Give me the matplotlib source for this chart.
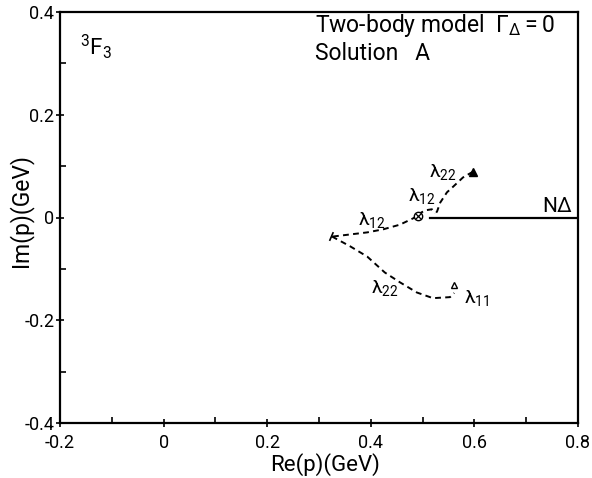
import matplotlib
matplotlib.use('Agg')
import matplotlib.pyplot as plt
from matplotlib.ticker import MultipleLocator

# trajectories of the poles in the complex momentum plane (GeV)
upper_l12_re = [0.327, 0.360, 0.393, 0.424, 0.456, 0.481, 0.491]
upper_l12_im = [-0.037, -0.033, -0.029, -0.023, -0.014, -0.002, 0.004]

lower_l22_re = [0.325, 0.360, 0.393, 0.427, 0.456, 0.489, 0.520, 0.553, 0.561]
lower_l22_im = [-0.037, -0.056, -0.076, -0.107, -0.126, -0.146, -0.157, -0.155, -0.147]

upper_l22_re = [0.597, 0.578, 0.559, 0.547, 0.534, 0.528, 0.524]
upper_l22_im = [0.089, 0.078, 0.060, 0.049, 0.029, 0.012, 0.006]

short_l12_re = [0.491, 0.505, 0.518, 0.524]
short_l12_im = [0.006, 0.014, 0.016, 0.008]

tip_re = [0.321, 0.327]
tip_im = [-0.044, -0.030]

# N-Delta threshold cut
cut_re = [0.514, 0.8]
cut_im = [0.0, 0.0]

# markers
start_full = (0.597, 0.089)
start_open = (0.561, -0.132)
cross_pt = (0.491, 0.003)

xticks = [-0.2, 0, 0.2, 0.4, 0.6, 0.8]
xticklabels = ['-0.2', '0', '0.2', '0.4', '0.6', '0.8']
yticks = [-0.4, -0.2, 0, 0.2, 0.4]
yticklabels = ['-0.4', '-0.2', '0', '0.2', '0.4']

plt.rcParams['font.family'] = ['Roboto', 'DejaVu Sans']
plt.rcParams['mathtext.fontset'] = 'custom'
plt.rcParams['mathtext.rm'] = 'Roboto'
plt.rcParams['mathtext.it'] = 'Roboto'
plt.rcParams['mathtext.default'] = 'regular'

fig = plt.figure(figsize=(5.92, 4.78), dpi=100)
ax = fig.add_axes([60 / 592, 1 - 423 / 478, 518 / 592, 411 / 478])

dash = dict(color='black', lw=1.4, ls=(0, (3, 2.2)))
ax.plot(upper_l12_re, upper_l12_im, **dash)
ax.plot(lower_l22_re, lower_l22_im, **dash)
ax.plot(upper_l22_re, upper_l22_im, **dash)
ax.plot(short_l12_re, short_l12_im, **dash)
ax.plot(tip_re, tip_im, color='black', lw=1.2)
ax.plot(cut_re, cut_im, color='black', lw=1.6)

ax.plot(*start_full, marker='^', ms=6, color='black', mec='black')
ax.plot(*start_open, marker='^', ms=5, mfc='white', mec='black', mew=1)
ax.plot(*cross_pt, marker='o', ms=6, mfc='white', mec='black', mew=1)
ax.plot(*cross_pt, marker='x', ms=4, color='black', mew=0.9)

fs = 14
ax.text(0.539, 0.089, r'$\lambda_{22}$', fontsize=fs, ha='center', va='center')
ax.text(0.499, 0.041, r'$\lambda_{12}$', fontsize=fs, ha='center', va='center')
ax.text(0.402, -0.004, r'$\lambda_{12}$', fontsize=fs, ha='center', va='center')
ax.text(0.427, -0.138, r'$\lambda_{22}$', fontsize=fs, ha='center', va='center')
ax.text(0.605, -0.157, r'$\lambda_{11}$', fontsize=fs, ha='center', va='center')
ax.text(0.760, 0.021, r'N$\Delta$', fontsize=15, ha='center', va='center')

ax.text(0.07, 0.917, r'$^3F_3$', fontsize=16, ha='center', va='center',
        transform=ax.transAxes)
ax.text(0.492, 0.968, r'Two-body model  $\Gamma_\Delta = 0$', fontsize=16.5,
        ha='left', va='center', transform=ax.transAxes)
ax.text(0.492, 0.898, 'Solution   A', fontsize=16.5,
        ha='left', va='center', transform=ax.transAxes)

ax.set_xlim(-0.2, 0.8)
ax.set_ylim(-0.4, 0.4)
ax.set_xticks(xticks)
ax.set_xticklabels(xticklabels)
ax.set_yticks(yticks)
ax.set_yticklabels(yticklabels)
ax.xaxis.set_minor_locator(MultipleLocator(0.1))
ax.yaxis.set_minor_locator(MultipleLocator(0.1))
ax.tick_params(which='major', direction='inout', length=6, width=1.2, labelsize=13, pad=1)
ax.tick_params(axis='x', which='major', pad=5)
ax.tick_params(which='minor', direction='in', length=4, width=1.2)
for sp in ax.spines.values():
    sp.set_linewidth(1.6)

ax.set_xlabel('Re(p)(GeV)', fontsize=16)
ax.xaxis.set_label_coords(0.512, -0.072)
ax.set_ylabel('Im(p)(GeV)', fontsize=16.5)
ax.yaxis.set_label_coords(-0.052, 0.518)

fig.savefig('out.png', dpi=100)
